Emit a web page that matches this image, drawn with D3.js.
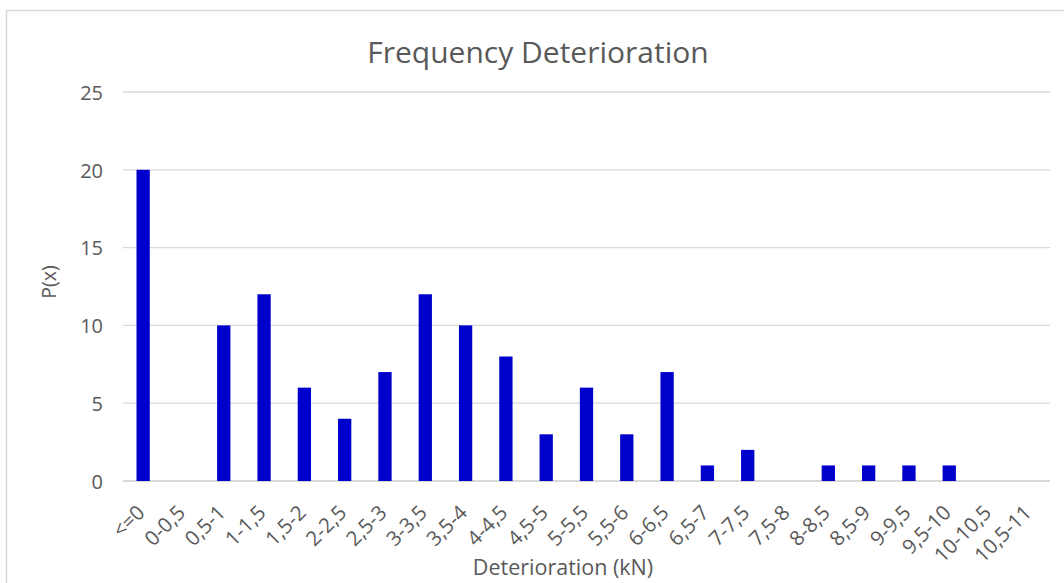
<!DOCTYPE html>
<html>
<head>
<meta charset="utf-8">
<script src="https://cdn.jsdelivr.net/npm/d3@7"></script>
<style>
  html, body { margin: 0; padding: 0; background: #fff; }
  svg { display: block; }
  text { font-family: "Open Sans", "Noto Sans", sans-serif; fill: #595959; }
</style>
</head>
<body>
<svg id="chart" width="1064" height="583"></svg>
<script>
// Deterioration classes (kN) and observed frequencies
const categories = ["<=0", "0-0,5", "0,5-1", "1-1,5", "1,5-2", "2-2,5", "2,5-3", "3-3,5", "3,5-4", "4-4,5",
  "4,5-5", "5-5,5", "5,5-6", "6-6,5", "6,5-7", "7-7,5", "7,5-8", "8-8,5", "8,5-9", "9-9,5",
  "9,5-10", "10-10,5", "10,5-11"];
const frequencies = [20, 0, 10, 12, 6, 4, 7, 12, 10, 8, 3, 6, 3, 7, 1, 2, 0, 1, 1, 1, 1, 0, 0];
const yTicks = [0, 5, 10, 15, 20, 25];

const svg = d3.select("#chart");
const plot = { left: 123, right: 1050, top: 92, bottom: 481 };

// chart frame
svg.append("rect")
  .attr("x", 6.5).attr("y", 10.5)
  .attr("width", 1100).attr("height", 600)
  .attr("fill", "none").attr("stroke", "#d9d9d9").attr("stroke-width", 1.5);

const x = d3.scaleBand().domain(categories).range([plot.left, plot.right]).paddingInner(0.67).paddingOuter(0.335);
const y = d3.scaleLinear().domain([0, 25]).range([plot.bottom, plot.top]);

// horizontal gridlines
svg.append("g").selectAll("line").data(yTicks).join("line")
  .attr("x1", plot.left).attr("x2", plot.right)
  .attr("y1", d => y(d)).attr("y2", d => y(d))
  .attr("stroke", "#d9d9d9").attr("stroke-width", d => d === 0 ? 2 : 1.3);

// y axis labels
const yAxis = d3.axisLeft(y).tickValues(yTicks).tickSize(0).tickPadding(0);
svg.append("g").attr("transform", `translate(${plot.left - 20},0)`).call(yAxis)
  .call(g => g.select(".domain").remove())
  .call(g => g.selectAll("text").attr("font-size", 20).attr("fill", "#595959")
    .attr("font-family", "'Open Sans', sans-serif").attr("dy", "0.36em"));

// bars
svg.append("g").selectAll("rect").data(categories).join("rect")
  .attr("x", d => x(d))
  .attr("width", x.bandwidth())
  .attr("y", (d, i) => y(frequencies[i]))
  .attr("height", (d, i) => y(0) - y(frequencies[i]))
  .attr("fill", "#0000cc");

// x axis labels, rotated
const xAxis = d3.axisBottom(x).tickSize(0).tickPadding(0);
svg.append("g").attr("transform", `translate(0,${plot.bottom})`).call(xAxis)
  .call(g => g.select(".domain").remove())
  .call(g => g.selectAll("text")
    .attr("font-size", 20.5).attr("fill", "#595959")
    .attr("font-family", "'Open Sans', sans-serif")
    .attr("text-anchor", "end")
    .attr("dy", "0")
    .attr("transform", "translate(3,33) rotate(-45)"));

// title
svg.append("text")
  .attr("x", 538).attr("y", 63)
  .attr("text-anchor", "middle")
  .attr("font-size", 30)
  .text("Frequency Deterioration");

// axis titles
svg.append("text")
  .attr("transform", "translate(56,282) rotate(-90)")
  .attr("text-anchor", "middle")
  .attr("font-size", 19.5)
  .text("P(x)");

svg.append("text")
  .attr("x", 563).attr("y", 575)
  .attr("text-anchor", "middle")
  .attr("font-size", 21.5)
  .text("Deterioration (kN)");
</script>
</body>
</html>
